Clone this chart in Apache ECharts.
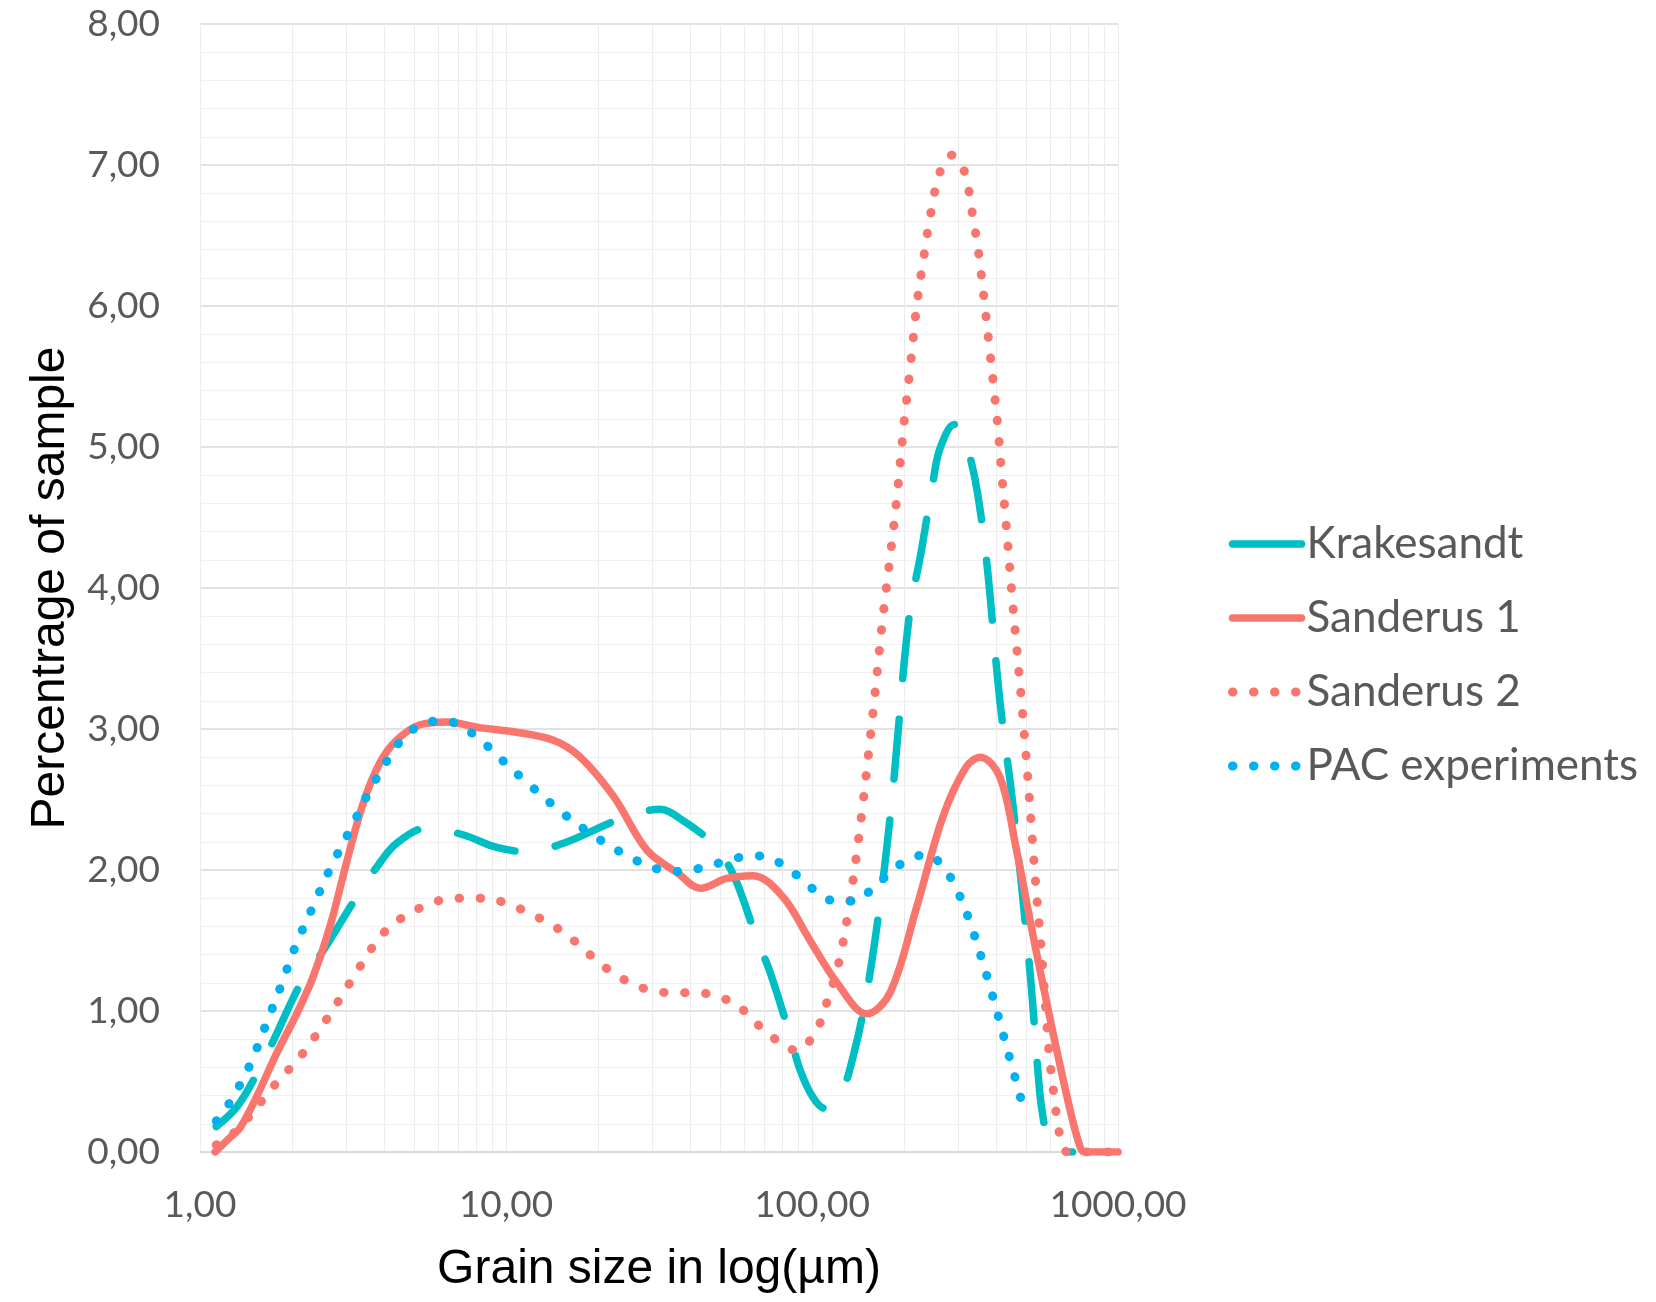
<!DOCTYPE html>
<html><head><meta charset="utf-8">
<script src="https://cdn.jsdelivr.net/npm/echarts@6/dist/echarts.min.js"></script>
<style>html,body{margin:0;padding:0;background:#fff}#c{width:1656px;height:1302px}</style>
</head><body><div id="c"></div>
<script>
// ---- data ----
const seriesNames = ['Krakesandt', 'Sanderus 1', 'Sanderus 2', 'PAC experiments'];
const xTickValues = [1, 10, 100, 1000];
const yTickValues = [0, 1, 2, 3, 4, 5, 6, 7, 8];

const krakX = [1.13, 1.32, 1.53, 1.72, 2.15, 2.53, 3.25, 3.78, 4.39, 5.56, 7.23, 9.34, 11.7, 15.4, 24.1, 31.9, 37.9, 47.6, 55.5, 66.3, 73.1, 84.9, 91.5, 100.6, 110, 125, 136, 151, 169, 184, 207, 228, 248, 262, 292, 310, 331, 349, 373, 411, 453, 515, 548, 564, 595, 660, 710];
const krakY = [0.18, 0.32, 0.55, 0.77, 1.21, 1.43, 1.81, 2.02, 2.19, 2.30, 2.25, 2.16, 2.13, 2.19, 2.37, 2.43, 2.35, 2.18, 1.96, 1.50, 1.27, 0.82, 0.58, 0.39, 0.31, 0.43, 0.67, 1.13, 1.86, 2.58, 3.77, 4.27, 4.74, 4.99, 5.16, 5.10, 4.90, 4.65, 4.17, 3.20, 2.47, 1.29, 0.56, 0.30, 0.09, 0.01, 0];

const san1X = [1.12, 1.25, 1.35, 1.53, 1.78, 2.07, 2.34, 2.66, 3.01, 3.41, 3.87, 4.39, 5.23, 6.4, 8.2, 10.6, 14.3, 17.5, 22.5, 28.9, 36.3, 43.2, 52.7, 64.2, 80.3, 98.5, 120.7, 150.8, 180, 220, 268, 319, 355, 411, 466, 526, 595, 631, 697, 751, 775, 1000];
const san1Y = [0, 0.10, 0.17, 0.39, 0.70, 0.98, 1.24, 1.60, 2.05, 2.47, 2.76, 2.92, 3.03, 3.05, 3.01, 2.98, 2.92, 2.80, 2.52, 2.14, 1.98, 1.87, 1.94, 1.96, 1.81, 1.50, 1.20, 0.98, 1.13, 1.74, 2.38, 2.73, 2.80, 2.66, 2.14, 1.55, 0.98, 0.72, 0.30, 0.04, 0, 0];

const san2X = [1.13, 1.25, 1.42, 1.73, 2.15, 2.59, 3.09, 3.68, 4.09, 4.64, 5.35, 6.23, 7.33, 8.66, 10.1, 11.8, 13.6, 15.6, 17.7, 20.0, 22.7, 26.1, 30.5, 36.3, 42.3, 49.6, 57.2, 64.5, 72.9, 83.0, 90, 95.9, 105, 111, 122, 133, 145, 159, 170, 180, 190, 199, 210, 221, 232, 244, 262, 286, 314, 334, 351, 365, 378, 392, 405, 416, 428, 452, 486, 512, 537, 567, 595, 618, 647, 686, 1000];
const san2Y = [0.05, 0.11, 0.23, 0.46, 0.69, 0.94, 1.20, 1.46, 1.58, 1.67, 1.74, 1.79, 1.80, 1.80, 1.76, 1.70, 1.63, 1.55, 1.45, 1.35, 1.26, 1.19, 1.14, 1.13, 1.13, 1.10, 1.04, 0.93, 0.83, 0.74, 0.72, 0.76, 0.89, 1.04, 1.33, 1.78, 2.38, 3.16, 3.77, 4.22, 4.67, 5.13, 5.59, 6.04, 6.35, 6.65, 6.95, 7.07, 6.96, 6.66, 6.36, 6.05, 5.75, 5.44, 5.14, 4.83, 4.53, 3.91, 3.15, 2.54, 1.93, 1.32, 0.71, 0.40, 0.11, 0, 0];

const pacX = [1.13, 1.25, 1.45, 1.64, 1.84, 2.06, 2.35, 2.69, 3.12, 3.62, 4.27, 4.73, 5.41, 6.33, 7.37, 8.39, 9.49, 12.0, 15.4, 20.1, 26.5, 30.9, 36.2, 42.5, 49.8, 58.2, 68.6, 79.9, 90.8, 103, 119, 139, 159, 180, 204, 239, 270, 295, 333, 383, 437, 497];
const pacY = [0.22, 0.35, 0.61, 0.90, 1.18, 1.47, 1.75, 2.03, 2.30, 2.58, 2.84, 2.96, 3.04, 3.06, 3.00, 2.91, 2.80, 2.60, 2.40, 2.22, 2.07, 2.01, 1.99, 2.01, 2.05, 2.09, 2.10, 2.04, 1.95, 1.85, 1.78, 1.78, 1.88, 1.98, 2.07, 2.11, 2.01, 1.88, 1.59, 1.16, 0.71, 0.27];

// ---- build ----
const zip = (xs, ys) => xs.map((x, i) => [x, ys[i]]);
const fmt = v => Number(v).toFixed(2).replace('.', ',');
const TEAL = '#00BFC4', RED = '#F8766D', BLUE = '#00B0F0';
const LW = 7.5, DW = 9;
const DOT = [0.5, 20.5];

const chart = echarts.init(document.getElementById('c'), null, {renderer: 'canvas'});
chart.setOption({
  backgroundColor: '#ffffff',
  animation: false,
  grid: {left: 200, right: 538, top: 24, bottom: 150},
  xAxis: {
    type: 'log', logBase: 10,
    min: xTickValues[0], max: xTickValues[xTickValues.length - 1],
    name: 'Grain size in log(µm)', nameLocation: 'middle', nameGap: 94,
    nameTextStyle: {fontFamily: 'Liberation Sans', fontSize: 48, color: '#000000'},
    axisLine: {show: true, lineStyle: {color: '#d9d9d9', width: 1.5}},
    axisTick: {show: false},
    minorTick: {show: false, splitNumber: 9},
    splitLine: {show: true, lineStyle: {color: '#ececec', width: 1}},
    minorSplitLine: {show: true, lineStyle: {color: '#ececec', width: 1}},
    axisLabel: {formatter: fmt, fontFamily: 'Lato', fontSize: 37, color: '#595959', margin: 35}
  },
  yAxis: {
    type: 'value', min: yTickValues[0], max: yTickValues[yTickValues.length - 1], interval: 1,
    name: 'Percentrage of sample', nameLocation: 'middle', nameGap: 125, nameRotate: 90,
    nameTextStyle: {fontFamily: 'Liberation Sans', fontSize: 48, color: '#000000'},
    axisLine: {show: false}, axisTick: {show: false},
    minorTick: {show: false, splitNumber: 5},
    splitLine: {show: true, lineStyle: {color: '#d9d9d9', width: 1.5}},
    minorSplitLine: {show: true, lineStyle: {color: '#f0f0f0', width: 1}},
    axisLabel: {formatter: fmt, fontFamily: 'Lato', fontSize: 37, color: '#595959', margin: 40}
  },
  legend: {
    orient: 'vertical', left: 1228, top: 519, padding: 0,
    itemWidth: 69, itemHeight: 14, itemGap: 24,
    itemStyle: {opacity: 0},
    textStyle: {fontFamily: 'Lato', fontSize: 44, color: '#595959', lineHeight: 50},
    data: [
      {name: seriesNames[0], lineStyle: {type: 'solid', width: LW, cap: 'round'}},
      {name: seriesNames[1], lineStyle: {type: 'solid', width: LW, cap: 'round'}},
      {name: seriesNames[2], lineStyle: {type: DOT, width: DW, cap: 'round'}},
      {name: seriesNames[3], lineStyle: {type: DOT, width: DW, cap: 'round'}}
    ]
  },
  series: [
    {name: seriesNames[0], type: 'line', data: zip(krakX, krakY), smooth: 0.35, symbol: 'none',
     itemStyle: {color: TEAL},
     lineStyle: {color: TEAL, width: LW, type: [60, 41], cap: 'round', join: 'round'}},
    {name: seriesNames[1], type: 'line', data: zip(san1X, san1Y), smooth: 0.35, symbol: 'none',
     itemStyle: {color: RED},
     lineStyle: {color: RED, width: LW, type: 'solid', cap: 'round', join: 'round'}},
    {name: seriesNames[2], type: 'line', data: zip(san2X, san2Y), smooth: 0.35, symbol: 'none',
     itemStyle: {color: RED},
     lineStyle: {color: RED, width: DW, type: DOT, cap: 'round', join: 'round'}},
    {name: seriesNames[3], type: 'line', data: zip(pacX, pacY), smooth: 0.35, symbol: 'none',
     itemStyle: {color: BLUE},
     lineStyle: {color: BLUE, width: DW, type: DOT, cap: 'round', join: 'round'}}
  ]
});
</script></body></html>
